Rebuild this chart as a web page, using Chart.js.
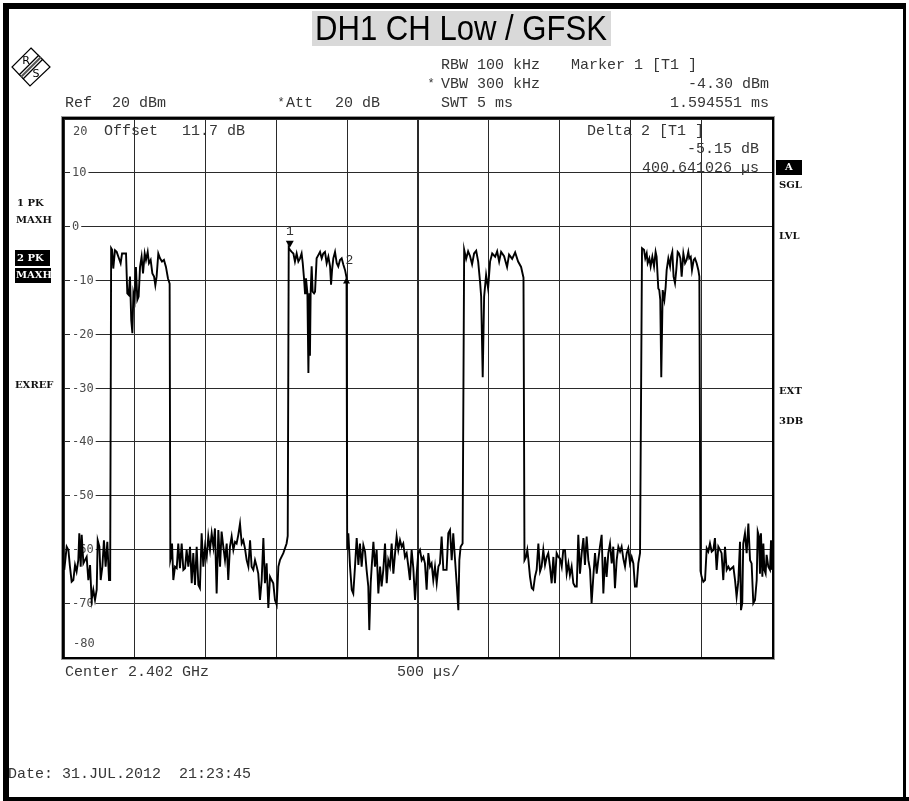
<!DOCTYPE html>
<html><head><meta charset="utf-8">
<script src="https://cdn.jsdelivr.net/npm/chart.js@4.4.1/dist/chart.umd.min.js"></script>
<style>html,body{margin:0;padding:0;background:#fff;overflow:hidden}canvas{display:block}</style>
</head><body><canvas id="c" width="909" height="801"></canvas>
<script>
// ---------- data (time in µs, level in dBm) ----------
const chartTitle = 'DH1 CH Low / GFSK';
const noise0 = [[2,-63.8],[19,-59.5],[31,-60.1],[42,-63.2],[54,-66.0],[66,-65.7],[78,-62.9],[89,-64.1],[101,-62.0],[108,-57.0],[118,-63.2],[125,-57.3],[137,-62.6],[148,-62.0],[160,-61.4],[172,-65.7],[184,-62.9],[195,-69.4],[207,-67.5],[219,-69.4],[231,-67.5],[238,-58.3],[250,-59.5],[259,-65.7],[271,-63.2],[282,-58.3],[294,-63.2],[306,-58.6],[318,-65.7],[326,-65.7]];
const burst1 = [[333,-4.0],[340,-4.3],[348,-7.8],[360,-4.4],[372,-4.7],[384,-5.6],[400,-6.8],[410,-5.0],[424,-5.0],[438,-5.0],[447,-12.4],[457,-12.7],[466,-9.3],[475,-17.4],[483,-19.8],[490,-12.4],[499,-13.6],[508,-7.5],[518,-13.6],[527,-13.0],[537,-7.5],[548,-5.6],[558,-8.7],[570,-5.0],[579,-6.2],[591,-4.7],[600,-6.8],[612,-6.2],[624,-8.7],[636,-9.3],[645,-10.9],[654,-9.3],[666,-5.0],[678,-5.9],[692,-6.5],[706,-6.2],[720,-7.5],[734,-9.6],[746,-10.6]];
const noise1 = [[751,-62.0],[756,-61.4],[763,-58.9],[772,-65.7],[784,-63.2],[796,-63.5],[807,-58.9],[819,-63.5],[831,-58.9],[843,-63.8],[855,-63.5],[866,-60.1],[878,-63.2],[890,-59.5],[902,-66.3],[913,-60.7],[925,-66.6],[937,-59.5],[949,-66.6],[960,-67.2],[972,-57.0],[984,-63.2],[996,-59.5],[1008,-61.4],[1019,-57.6],[1031,-60.1],[1043,-57.0],[1055,-59.5],[1066,-56.1],[1078,-68.2],[1090,-56.4],[1102,-63.2],[1113,-56.7],[1125,-59.5],[1137,-62.0],[1149,-58.9],[1160,-65.7],[1172,-59.5],[1184,-57.6],[1196,-60.1],[1208,-58.6],[1219,-58.9],[1231,-57.3],[1243,-55.2],[1255,-58.9],[1266,-58.3],[1278,-59.8],[1290,-62.0],[1302,-63.2],[1314,-58.3],[1325,-63.2],[1337,-63.8],[1349,-62.0],[1361,-63.2],[1372,-64.5],[1384,-69.4],[1396,-65.7],[1408,-57.9],[1419,-66.3],[1431,-62.6],[1443,-70.9],[1455,-65.1],[1466,-65.7],[1478,-66.3],[1490,-69.4],[1502,-70.3],[1514,-63.2],[1525,-62.0],[1549,-60.7],[1572,-58.9],[1580,-57.5]];
const burst2 = [[1587,-3.9],[1594.551,-4.30],[1608,-4.7],[1620,-5.0],[1631,-6.5],[1643,-5.0],[1655,-6.5],[1667,-5.9],[1678,-5.0],[1686,-6.8],[1695,-9.6],[1702,-12.4],[1709,-9.6],[1719,-12.4],[1726,-27.2],[1733,-12.4],[1737,-24.0],[1742,-12.0],[1749,-7.4],[1756,-12.1],[1766,-12.4],[1773,-12.1],[1784,-5.9],[1796,-5.3],[1808,-4.7],[1820,-5.9],[1831,-5.0],[1843,-4.7],[1855,-6.8],[1867,-5.6],[1879,-7.4],[1886,-10.8],[1893,-8.1],[1902,-5.9],[1914,-4.7],[1926,-6.8],[1937,-7.4],[1949,-6.2],[1961,-5.9],[1973,-7.1],[1985,-8.1],[1995.192,-9.45]];
const noise2 = [[2000,-60.0],[2008,-57.0],[2020,-63.2],[2032,-67.5],[2043,-68.2],[2055,-63.2],[2067,-57.9],[2079,-62.9],[2090,-58.9],[2102,-63.2],[2114,-59.2],[2126,-60.4],[2137,-63.8],[2149,-66.9],[2156,-75.0],[2166,-66.3],[2173,-63.2],[2185,-58.6],[2196,-63.2],[2208,-60.1],[2220,-68.2],[2232,-63.2],[2243,-66.9],[2255,-63.8],[2267,-58.9],[2279,-66.3],[2290,-62.0],[2302,-63.2],[2314,-58.9],[2326,-64.5],[2338,-60.7],[2349,-57.6],[2361,-60.1],[2373,-58.3],[2385,-59.5],[2396,-58.9],[2408,-61.4],[2420,-60.7],[2432,-63.2],[2443,-65.7],[2455,-60.1],[2467,-63.5],[2479,-69.4],[2491,-64.5],[2502,-60.7],[2514,-60.1],[2526,-62.0],[2538,-61.4],[2549,-62.6],[2561,-67.5],[2573,-60.7],[2585,-63.2],[2596,-62.6],[2608,-65.7],[2620,-63.2],[2632,-66.3],[2644,-63.2],[2655,-62.6],[2667,-57.6],[2679,-63.8],[2691,-63.8],[2702,-63.8],[2714,-57.0],[2726,-56.4],[2738,-62.0],[2749,-57.0],[2761,-61.7],[2773,-66.3],[2785,-71.3],[2792,-62.0],[2801,-59.5],[2815,-58.9]];
const burst3 = [[2826,-4.3],[2840,-6.0],[2854,-4.6],[2868,-5.5],[2882,-7.0],[2896,-5.0],[2911,-4.5],[2925,-6.5],[2939,-10.5],[2946,-13.0],[2957,-28.0],[2967,-13.0],[2981,-9.0],[2995,-11.5],[3009,-6.5],[3024,-5.0],[3045,-5.6],[3059,-4.6],[3073,-6.5],[3087,-4.7],[3108,-5.5],[3129,-7.5],[3143,-5.2],[3165,-6.0],[3186,-4.8],[3207,-6.5],[3228,-7.5],[3245,-9.5]];
const noise3 = [[3252,-62.0],[3263,-61.4],[3272,-60.1],[3279,-61.7],[3291,-65.1],[3303,-67.2],[3314,-67.5],[3326,-65.1],[3338,-63.8],[3350,-58.9],[3362,-64.1],[3373,-63.2],[3385,-60.1],[3397,-62.9],[3409,-61.4],[3420,-60.7],[3432,-63.2],[3444,-66.3],[3456,-61.4],[3467,-66.3],[3479,-60.7],[3491,-61.4],[3503,-61.7],[3515,-63.2],[3526,-60.1],[3538,-60.1],[3550,-64.5],[3562,-62.6],[3573,-64.8],[3585,-63.2],[3597,-66.3],[3609,-66.9],[3621,-66.9],[3632,-57.3],[3644,-64.5],[3656,-60.7],[3668,-57.9],[3679,-62.9],[3691,-57.6],[3703,-62.0],[3715,-63.8],[3726,-70.0],[3738,-65.1],[3750,-60.7],[3762,-64.5],[3773,-62.0],[3785,-59.5],[3797,-57.3],[3809,-68.2],[3821,-61.4],[3832,-65.1],[3844,-60.7],[3856,-58.9],[3868,-62.6],[3879,-59.5],[3891,-67.2],[3903,-62.0],[3915,-59.5],[3927,-60.4],[3938,-59.5],[3950,-61.7],[3962,-63.2],[3974,-60.7],[3985,-59.8],[3997,-62.6],[4009,-61.4],[4021,-62.6],[4032,-66.9],[4044,-66.9],[4056,-62.6],[4068,-60.7]];
const burst4 = [[4082,-4.0],[4096,-4.3],[4105,-5.9],[4115,-5.0],[4122,-6.8],[4134,-5.9],[4143,-7.4],[4155,-5.6],[4167,-7.4],[4178,-4.7],[4185,-5.6],[4197,-11.5],[4204,-11.8],[4211,-13.6],[4218,-28.0],[4228,-11.8],[4240,-13.6],[4249,-11.2],[4256,-8.1],[4268,-5.9],[4280,-7.4],[4287,-5.6],[4296,-4.7],[4305,-9.3],[4315,-10.5],[4324,-8.1],[4334,-4.7],[4343,-5.0],[4353,-5.9],[4362,-9.3],[4374,-5.0],[4386,-6.8],[4397,-6.2],[4409,-4.7],[4416,-5.9],[4426,-5.6],[4435,-8.1],[4447,-6.2],[4456,-5.9],[4468,-6.8],[4480,-8.1],[4487,-9.3]];
const noise4 = [[4495,-64.0],[4503,-65.1],[4515,-66.0],[4527,-65.7],[4539,-59.8],[4550,-60.4],[4562,-58.9],[4574,-60.4],[4586,-60.1],[4597,-57.9],[4609,-63.8],[4621,-59.5],[4633,-60.1],[4644,-60.7],[4656,-65.7],[4668,-59.5],[4680,-63.8],[4692,-63.2],[4703,-63.8],[4715,-63.5],[4727,-63.2],[4739,-65.7],[4750,-68.8],[4762,-66.0],[4774,-58.6],[4781,-71.3],[4790,-70.0],[4797,-58.9],[4809,-57.0],[4821,-60.7],[4833,-55.2],[4845,-62.0],[4856,-62.6],[4868,-70.0],[4880,-69.4],[4892,-65.7],[4899,-56.7],[4908,-57.6],[4915,-64.5],[4922,-57.0],[4932,-65.1],[4939,-58.9],[4946,-63.8],[4955,-64.5],[4962,-61.0],[4974,-63.2],[4986,-63.8],[4993,-58.3],[5000,-63.8]];
const traceSegments = [noise0, burst1, noise1, burst2, noise2, burst3, noise3, burst4, noise4];

const markerNames = ['1', '2'];
const markerTimeUs = [1594.551, 1995.192];
const markerLevelDbm = [-4.30, -9.45];

const yTickValues = [20, 10, 0, -10, -20, -30, -40, -50, -60, -70, -80];
const yTickLabels = ['20', '10', '0', '-10', '-20', '-30', '-40', '-50', '-60', '-70', '-80'];
const xMinUs = 0, xMaxUs = 5000, xStepUs = 500;

const headerTexts = ['RBW 100 kHz', 'VBW 300 kHz', 'SWT 5 ms', 'Ref', '20 dBm', 'Att', '20 dB',
  'Marker 1 [T1 ]', '-4.30 dBm', '1.594551 ms'];
const plotTexts = ['Offset', '11.7 dB', 'Delta 2 [T1 ]', '-5.15 dB', '400.641026 µs'];
const footerTexts = ['Center 2.402 GHz', '500 µs/', 'Date: 31.JUL.2012  21:23:45'];
const leftFlags = ['1 PK', 'MAXH', '2 PK', 'MAXH', 'EXREF'];
const rightFlags = ['A', 'SGL', 'LVL', 'EXT', '3DB'];

// ---------- drawing ----------
const trace = traceSegments.flat().map(p => ({x: p[0], y: p[1]}));
const MONO = '15px "Liberation Mono", "Courier New", monospace';
const TXT = '#363636';

function txt(c, s, x, y, align) {
  c.textAlign = align || 'left';
  c.fillText(s, x, y);
}

const decor = {
  id: 'decor',
  beforeDraw(chart) {
    const c = chart.ctx;
    c.save();
    c.fillStyle = '#fff';
    c.fillRect(0, 0, chart.width, chart.height);
    c.restore();
  },
  beforeDatasetsDraw(chart) {
    const c = chart.ctx, ys = chart.scales.y, a = chart.chartArea;
    c.save();
    c.textBaseline = 'middle';
    c.font = '12px "DejaVu Sans Mono", monospace';
    yTickValues.forEach((v, i) => {
      let py = ys.getPixelForValue(v);
      let lx = a.left + 8;
      if (i === 0) { py += 12; lx = a.left + 9; }
      if (i === yTickValues.length - 1) { py -= 14; lx = a.left + 9; }
      const w = c.measureText(yTickLabels[i]).width;
      c.fillStyle = '#fff';
      c.fillRect(lx - 2, py - 5, w + 4, 11);
      c.fillStyle = '#4a4a4a';
      c.textAlign = 'left';
      c.fillText(yTickLabels[i], lx, py + 0.5);
    });
    // texts inside the plot
    c.font = MONO;
    c.fillStyle = TXT;
    txt(c, plotTexts[0], 104, 131);
    txt(c, plotTexts[1], 182, 131);
    txt(c, plotTexts[2], 587, 131);
    txt(c, plotTexts[3], 759, 149, 'right');
    txt(c, plotTexts[4], 759, 168, 'right');
    c.restore();
  },
  afterDraw(chart) {
    const c = chart.ctx, xs = chart.scales.x, ys = chart.scales.y, a = chart.chartArea;
    c.save();
    // plot frame
    c.strokeStyle = '#9a9a9a'; c.lineWidth = 1;
    c.strokeRect(a.left - 2.5, a.top - 2.5, a.right - a.left + 5, a.bottom - a.top + 5);
    c.strokeStyle = '#000'; c.lineWidth = 2;
    c.strokeRect(a.left - 1, a.top - 1, a.right - a.left + 2, a.bottom - a.top + 2);

    // markers
    c.fillStyle = '#000';
    c.font = '13px "Liberation Mono", monospace';
    c.textBaseline = 'middle';
    markerTimeUs.forEach((t, i) => {
      const px = xs.getPixelForValue(t), py = ys.getPixelForValue(markerLevelDbm[i]);
      c.beginPath();
      if (i === 0) {
        c.moveTo(px, py - 2); c.lineTo(px - 4, py - 9); c.lineTo(px + 4, py - 9);
      } else {
        c.moveTo(px, py); c.lineTo(px - 3.5, py + 6); c.lineTo(px + 3.5, py + 6);
      }
      c.closePath(); c.fill();
      c.fillStyle = '#333';
      if (i === 0) txt(c, markerNames[i], px, py - 18, 'center');
      else txt(c, markerNames[i], px + 3, py - 17, 'center');
      c.fillStyle = '#000';
    });

    // header texts
    c.font = MONO; c.fillStyle = TXT; c.textBaseline = 'middle';
    const r1 = 65, r2 = 84.5, r3 = 103.5;
    txt(c, headerTexts[0], 441, r1);
    txt(c, headerTexts[1], 441, r2);
    txt(c, headerTexts[2], 441, r3);
    txt(c, headerTexts[3], 65, r3);
    txt(c, headerTexts[4], 112, r3);
    txt(c, headerTexts[5], 286, r3);
    txt(c, headerTexts[6], 335, r3);
    txt(c, headerTexts[7], 571, r1);
    txt(c, headerTexts[8], 769, r2, 'right');
    txt(c, headerTexts[9], 769, r3, 'right');
    c.font = '12px "Liberation Mono", monospace';
    txt(c, '*', 431, r2 - 1, 'center');
    txt(c, '*', 281, r3 - 1, 'center');
    c.font = MONO;
    // footer
    txt(c, footerTexts[0], 65, 672);
    txt(c, footerTexts[1], 397, 672);
    txt(c, footerTexts[2], 8, 774);

    // side flags
    c.font = 'bold 10px "DejaVu Serif", serif';
    c.fillStyle = '#111';
    txt(c, leftFlags[0], 17, 203);
    txt(c, leftFlags[1], 16, 220);
    c.fillStyle = '#000';
    c.fillRect(15, 250, 35, 16);
    c.fillRect(15, 268, 36, 15);
    c.fillStyle = '#fff';
    txt(c, leftFlags[2], 17, 258);
    txt(c, leftFlags[3], 16, 275.5);
    c.fillStyle = '#111';
    txt(c, leftFlags[4], 15, 385);
    c.fillStyle = '#000';
    c.fillRect(776, 160, 26, 15);
    c.fillStyle = '#fff';
    txt(c, rightFlags[0], 789, 167.5, 'center');
    c.fillStyle = '#111';
    txt(c, rightFlags[1], 779, 185);
    txt(c, rightFlags[2], 779, 236);
    txt(c, rightFlags[3], 779, 391);
    txt(c, rightFlags[4], 779, 421);

    // title
    c.fillStyle = '#d9d9d9';
    c.fillRect(312, 11, 299, 35);
    c.fillStyle = '#000';
    c.font = '35px "Liberation Sans Narrow", "Liberation Sans", Arial, sans-serif';
    c.textAlign = 'left'; c.textBaseline = 'alphabetic';
    const tw = c.measureText(chartTitle).width;
    c.save();
    c.translate(315, 40);
    c.scale(292 / tw, 1);
    c.fillText(chartTitle, 0, 0);
    c.restore();

    // R&S logo
    c.strokeStyle = '#000'; c.lineWidth = 1.2;
    c.beginPath();
    c.moveTo(31, 48); c.lineTo(50, 67); c.lineTo(30, 86); c.lineTo(12, 67); c.closePath();
    c.stroke();
    c.beginPath(); c.moveTo(39, 55); c.lineTo(19, 75); c.stroke();
    c.beginPath(); c.moveTo(43, 59); c.lineTo(23, 79); c.stroke();
    c.lineWidth = 2.2; c.strokeStyle = '#555';
    c.beginPath(); c.moveTo(41, 57); c.lineTo(21, 77); c.stroke();
    c.fillStyle = '#000';
    c.font = '11px "DejaVu Sans", sans-serif'; c.textBaseline = 'middle';
    txt(c, 'R', 26, 61, 'center');
    txt(c, 'S', 36, 74, 'center');

    // outer frame
    c.fillStyle = '#000';
    c.fillRect(3, 3, 903, 6);
    c.fillRect(3, 3, 6, 798);
    c.fillRect(3, 797, 906, 4);
    c.fillRect(903, 3, 3, 798);
    c.restore();
  }
};

new Chart(document.getElementById('c'), {
  type: 'line',
  data: {
    datasets: [{
      data: trace,
      borderColor: '#000',
      borderWidth: 1.9,
      pointRadius: 0,
      tension: 0,
      fill: false
    }]
  },
  options: {
    responsive: false,
    animation: false,
    devicePixelRatio: 1,
    layout: {padding: {left: 64, right: 137, top: 119, bottom: 144}},
    plugins: {legend: {display: false}, tooltip: {enabled: false}, title: {display: false}},
    scales: {
      x: {
        type: 'linear', min: xMinUs, max: xMaxUs,
        ticks: {stepSize: xStepUs, display: false},
        grid: {color: '#2a2a2a', lineWidth: ctx => (ctx.tick && ctx.tick.value === 2500 ? 2 : 1), drawTicks: false},
        border: {display: false},
        afterFit: s => { s.height = 0; }
      },
      y: {
        type: 'linear', min: -80, max: 20,
        ticks: {stepSize: 10, display: false},
        grid: {color: '#2a2a2a', lineWidth: 1, drawTicks: false},
        border: {display: false},
        afterFit: s => { s.width = 0; }
      }
    }
  },
  plugins: [decor]
});
</script>
</body></html>
